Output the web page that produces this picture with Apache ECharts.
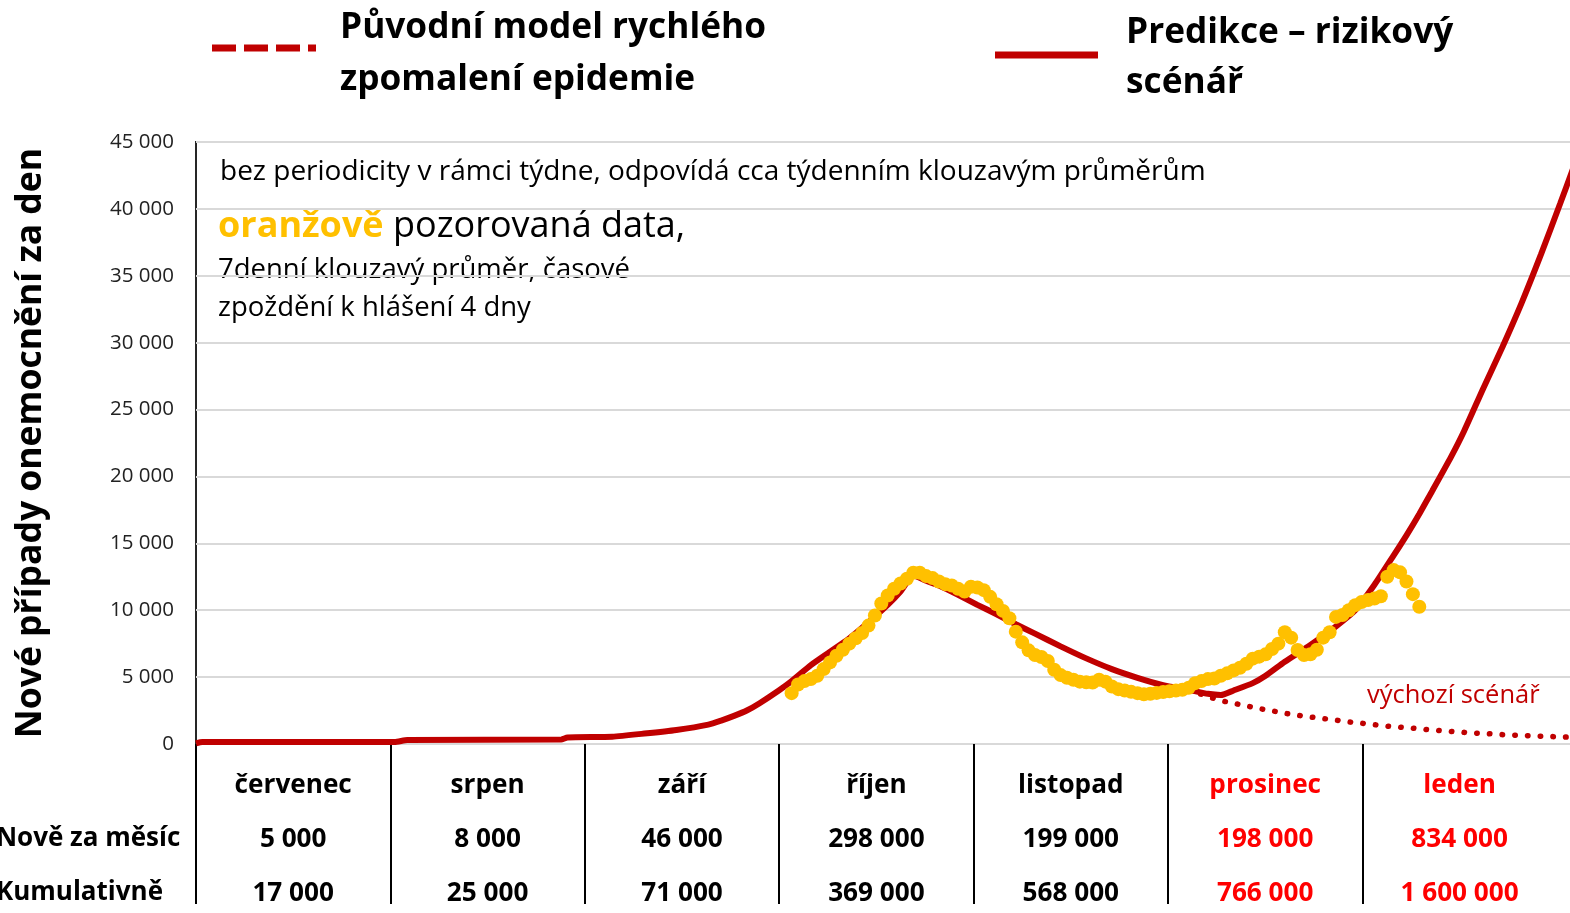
<!DOCTYPE html>
<html><head><meta charset="utf-8">
<script src="https://cdn.jsdelivr.net/npm/echarts@6/dist/echarts.min.js"></script>
<style>html,body{margin:0;padding:0;background:#fff}#c{width:1570px;height:913px}</style>
</head><body><div id="c"></div>
<script>
const FONT = "'Open Sans', 'Noto Sans', sans-serif";

// Day index: 0 = 1 July
const months = ['červenec', 'srpen', 'září', 'říjen', 'listopad', 'prosinec', 'leden'];
const monthlyNew = [5000, 8000, 46000, 298000, 199000, 198000, 834000];
const monthlyCumulative = [17000, 25000, 71000, 369000, 568000, 766000, 1600000];
const forecastMonths = ['prosinec', 'leden'];
const rowLabels = ['Nově za měsíc', 'Kumulativně'];

const predictionDays = [0, 1, 31, 33, 57, 58, 65, 70, 75, 80, 82, 84, 86, 88, 91, 93, 96, 99, 102, 105, 108, 110, 112, 114, 116, 119, 122, 125, 128, 131, 135, 139, 143, 147, 151, 155, 158, 160, 162, 165, 167, 170, 174, 178, 181, 184, 187, 189, 191, 193, 196, 198, 201, 204, 207, 210, 213, 215];
const predictionValues = [50, 150, 150, 300, 330, 480, 550, 780, 1050, 1450, 1750, 2100, 2500, 3050, 4000, 4700, 5900, 6900, 7900, 9100, 10400, 11400, 12600, 12200, 11850, 11150, 10400, 9700, 8950, 8250, 7300, 6400, 5600, 4950, 4400, 4050, 3750, 3660, 4000, 4550, 5100, 6150, 7400, 8800, 10000, 11900, 14100, 15600, 17200, 18900, 21500, 23400, 26600, 29700, 33000, 36600, 40400, 43000];

const baselineDays = [155, 158, 160, 162, 164, 166, 168, 170, 172, 174, 176, 178, 180, 182, 184, 186, 188, 190, 192, 194, 196, 198, 200, 202, 204, 206, 208, 210, 212, 215];
const baselineValues = [4050, 3550, 3250, 3050, 2850, 2650, 2480, 2300, 2150, 2020, 1900, 1780, 1650, 1550, 1440, 1340, 1260, 1180, 1090, 1010, 940, 870, 810, 760, 700, 660, 620, 580, 550, 500];

const observedStartDay = 93;
const observedValues = [3800, 4450, 4700, 4850, 5100, 5600, 6100, 6600, 7050, 7500, 7900, 8300, 8850, 9600, 10500, 11100, 11600, 12000, 12350, 12800, 12800, 12550, 12400, 12150, 11950, 11850, 11600, 11400, 11750, 11700, 11500, 11000, 10450, 9950, 9400, 8400, 7600, 7000, 6650, 6500, 6200, 5550, 5150, 4950, 4800, 4660, 4620, 4600, 4800, 4660, 4300, 4100, 4000, 3900, 3800, 3720, 3760, 3820, 3880, 3940, 4000, 4060, 4200, 4550, 4700, 4850, 4900, 5100, 5280, 5500, 5700, 6000, 6380, 6530, 6700, 7100, 7500, 8350, 7950, 7030, 6650, 6700, 7050, 7950, 8350, 9500, 9640, 10000, 10380, 10620, 10760, 10880, 11050, 12500, 13000, 12830, 12150, 11200, 10260];

const yMax = 45000, yStep = 5000, xMaxDay = 215;

const fmt = v => String(v).replace(/\B(?=(\d{3})+(?!\d))/g, ' ');
const zip = (a, b) => a.map((d, i) => [d, b[i]]);
const observed = observedValues.map((v, i) => [observedStartDay + i, v]);

// font sizing: fit text to the width it takes in the reference
const mctx = document.createElement('canvas').getContext('2d');
function textW(text, weight, size) { mctx.font = `${weight} ${size}px ${FONT}`; return mctx.measureText(text).width; }
function fitSize(text, weight, target) { return Math.round(2 * 100 * target / textW(text, weight, 100)) / 2; }

const fsLegend = (fitSize('Původní model rychlého', 'bold', 427) + fitSize('Predikce – rizikový', 'bold', 325)) / 2;
const fsNote = fitSize('bez periodicity v rámci týdne, odpovídá cca týdenním klouzavým průměrům', 'normal', 978);
const fsNote2 = fitSize('7denní klouzavý průměr, časové', 'normal', 412);
const fsBig = Math.round(2 * 100 * 469 / (textW('oranžově', 'bold', 100) + textW(' pozorovaná data,', 'normal', 100))) / 2;
const fsScen = fitSize('výchozí scénář', 'normal', 173);
const fsTick = fitSize('45 000', 'normal', 64);
const fsTitle = fitSize('Nové případy onemocnění za den', 'bold', 588);
const fsTable = (fitSize('červenec', 'bold', 118) + fitSize('298 000', 'bold', 96) + fitSize('1 600 000', 'bold', 117)) / 3;
const fsRow = fitSize(rowLabels[1], 'bold', 166);
const rowLabelX = 163 - textW(rowLabels[1], 'bold', fsRow);

const RED = '#C00000', ORANGE = '#FFC000';
const tableCats = months.concat(['']);

const option = {
  animation: false,
  backgroundColor: '#fff',
  grid: [
    { left: 196, right: -3, top: 142, bottom: 169, show: true, borderColor: '#262626', borderWidth: 2, outerBoundsMode: 'none', containLabel: false },
    { left: 196, width: 194.4 * 8, top: 743, height: 1, outerBoundsMode: 'none', containLabel: false }
  ],
  xAxis: [
    { type: 'value', gridIndex: 0, min: 0, max: xMaxDay, show: false },
    {
      type: 'category', gridIndex: 1, data: tableCats, position: 'bottom', offset: 11,
      boundaryGap: true,
      axisLine: { show: false },
      axisTick: { show: true, length: 160, interval: i => i !== 7, lineStyle: { color: '#000', width: 2 } },
      axisLabel: {
        interval: 0, margin: 4, hideOverlap: false,
        formatter: (val, idx) => {
          if (!val) return '';
          const r = forecastMonths.indexOf(val) >= 0 ? 'r' : '';
          return `{m${r}|${val}}\n{m${r}|${fmt(monthlyNew[idx])}}\n{m${r}|${fmt(monthlyCumulative[idx])}}`;
        },
        rich: {
          m: { fontFamily: FONT, fontSize: fsTable, fontWeight: 'bold', color: '#000', lineHeight: 54 },
          mr: { fontFamily: FONT, fontSize: fsTable, fontWeight: 'bold', color: '#FF0000', lineHeight: 54 }
        }
      }
    }
  ],
  yAxis: [
    {
      type: 'value', gridIndex: 0, min: 0, max: yMax, interval: yStep,
      name: 'Nové případy onemocnění za den', nameLocation: 'middle', nameGap: 196 - 31 - fsTitle / 2,
      nameTextStyle: { fontFamily: FONT, fontSize: fsTitle, fontWeight: 'bold', color: '#000' },
      axisLine: { show: false }, axisTick: { show: false },
      axisLabel: { formatter: v => fmt(v), fontFamily: FONT, fontSize: fsTick, color: '#222', margin: 22 },
      splitLine: { lineStyle: { color: '#d9d9d9', width: 2 } }
    },
    { type: 'value', gridIndex: 1, show: false }
  ],
  series: [
    {
      name: 'Původní model rychlého zpomalení epidemie', type: 'line', xAxisIndex: 0, yAxisIndex: 0,
      data: zip(baselineDays, baselineValues), symbol: 'none', smooth: 0.3,
      lineStyle: { color: RED, width: 5.5, type: [0.5, 12.2], cap: 'round' }, z: 2
    },
    {
      name: 'Predikce – rizikový scénář', type: 'line', xAxisIndex: 0, yAxisIndex: 0,
      data: zip(predictionDays, predictionValues), symbol: 'none', smooth: 0.2,
      lineStyle: { color: RED, width: 6 }, z: 3
    },
    {
      name: 'pozorovaná data', type: 'scatter', xAxisIndex: 0, yAxisIndex: 0,
      data: observed, symbolSize: 14, itemStyle: { color: ORANGE, opacity: 1 }, z: 4
    }
  ],
  graphic: [
    { type: 'line', shape: { x1: 212, y1: 48, x2: 316, y2: 48 }, style: { stroke: RED, lineWidth: 7, lineDash: [24, 8] } },
    { type: 'text', x: 340, y: 2, style: { text: 'Původní model rychlého\nzpomalení epidemie', fontFamily: FONT, fontSize: fsLegend, fontWeight: 'bold', fill: '#000', lineHeight: 52, verticalAlign: 'top' } },
    { type: 'line', shape: { x1: 995, y1: 55, x2: 1098, y2: 55 }, style: { stroke: RED, lineWidth: 7 } },
    { type: 'text', x: 1126, y: 8, style: { text: 'Predikce – rizikový\nscénář', fontFamily: FONT, fontSize: fsLegend, fontWeight: 'bold', fill: '#000', lineHeight: 50, verticalAlign: 'top' } },
    { type: 'text', x: 220, y: 172, style: { text: 'bez periodicity v rámci týdne, odpovídá cca týdenním klouzavým průměrům', fontFamily: FONT, fontSize: fsNote, fill: '#000', verticalAlign: 'middle' } },
    { type: 'text', x: 218, y: 227, style: { text: '{o|oranžově} pozorovaná data,', fontFamily: FONT, fontSize: fsBig, fill: '#000', verticalAlign: 'middle',
        rich: { o: { fontFamily: FONT, fontSize: fsBig, fontWeight: 'bold', fill: ORANGE, color: ORANGE } } } },
    { type: 'text', x: 218, y: 270, style: { text: '7denní klouzavý průměr, časové', fontFamily: FONT, fontSize: fsNote2, fill: '#000', verticalAlign: 'middle' } },
    { type: 'text', x: 218, y: 308, style: { text: 'zpoždění k hlášení 4 dny', fontFamily: FONT, fontSize: fsNote2, fill: '#000', verticalAlign: 'middle' } },
    { type: 'text', x: 1367, y: 696, style: { text: 'výchozí scénář', fontFamily: FONT, fontSize: fsScen, fill: RED, verticalAlign: 'middle' } },
    { type: 'text', x: rowLabelX, y: 839, style: { text: rowLabels[0], fontFamily: FONT, fontSize: fsRow, fontWeight: 'bold', fill: '#000', verticalAlign: 'middle' } },
    { type: 'text', x: rowLabelX, y: 893, style: { text: rowLabels[1], fontFamily: FONT, fontSize: fsRow, fontWeight: 'bold', fill: '#000', verticalAlign: 'middle' } }
  ]
};

const chart = echarts.init(document.getElementById('c'), null, { renderer: 'canvas' });
chart.setOption(option);
</script>
</body></html>
